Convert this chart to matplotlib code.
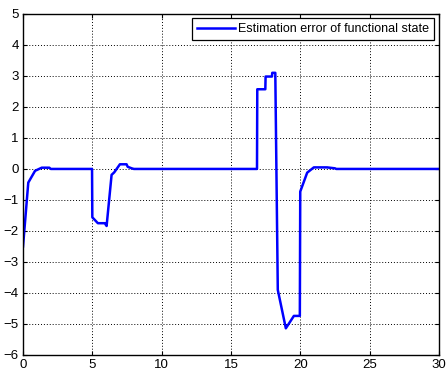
import matplotlib
matplotlib.use("Agg")
import matplotlib.pyplot as plt

plt.rcParams['font.family'] = ['Liberation Sans', 'DejaVu Sans']

# time samples and estimation error values
t = [0.0, 0.38, 0.87, 1.35, 1.9, 2.0, 4.98,
     5.0, 5.4, 5.9, 6.03, 6.39, 6.58, 6.99, 7.47, 7.55, 7.84, 8.0,
     16.88, 16.9, 17.48, 17.5, 17.96, 17.98, 18.2, 18.38, 18.96, 19.54, 19.97,
     20.0, 20.5, 20.98, 21.94, 22.5, 22.6, 30.0]
err = [-2.5, -0.44, -0.06, 0.04, 0.04, 0.0, 0.0,
       -1.56, -1.75, -1.75, -1.84, -0.19, -0.11, 0.15, 0.15, 0.07, 0.02, 0.0,
       0.0, 2.57, 2.57, 2.98, 2.98, 3.1, 3.1, -3.9, -5.14, -4.74, -4.74,
       -0.73, -0.12, 0.05, 0.05, 0.02, 0.0, 0.0]

x_ticks = [0, 5, 10, 15, 20, 25, 30]
y_ticks = [-6, -5, -4, -3, -2, -1, 0, 1, 2, 3, 4, 5]

fig = plt.figure(figsize=(4.46, 3.76), dpi=100)
ax = fig.add_axes([0.0516, 0.0559, 0.9324, 0.9071])

ax.plot(t, err, color='#0000ff', linewidth=1.8,
        label='Estimation error of functional state')

ax.set_xlim(0, 30)
ax.set_ylim(-6, 5)
ax.set_xticks(x_ticks)
ax.set_yticks(y_ticks)
ax.tick_params(direction='in', top=True, right=True, labelsize=9.5,
               length=3, width=0.8, pad=3)
ax.grid(True, color='black', linestyle=(0, (1, 2)), linewidth=0.7)
for s in ax.spines.values():
    s.set_linewidth(1.0)

leg = ax.legend(loc='upper right', fontsize=9, fancybox=False, framealpha=1,
                edgecolor='black', borderaxespad=0.35, handlelength=3.0,
                handletextpad=0.3, borderpad=0.4)
leg.get_frame().set_linewidth(0.9)

fig.savefig('out.png', dpi=100)
